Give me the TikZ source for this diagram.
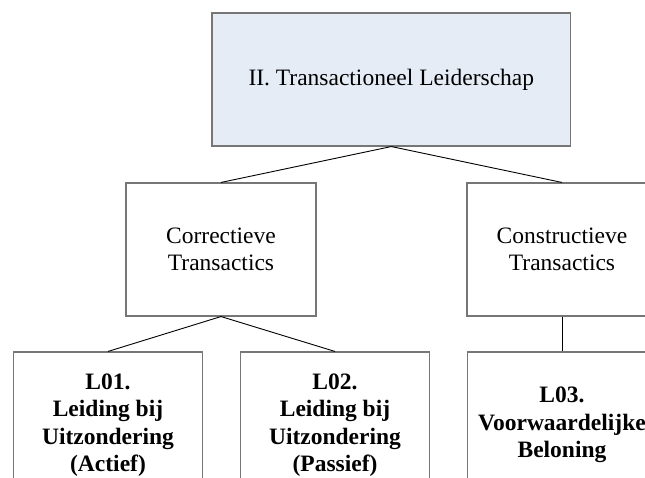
\documentclass[tikz,border=0pt]{standalone}
\usepackage{fontspec}
\setmainfont{Liberation Serif}
\definecolor{topfill}{RGB}{230,236,246}
\definecolor{boxline}{RGB}{118,118,118}
\tikzset{
  unit/.style={draw=boxline, line width=1.1pt, rectangle, align=center, inner sep=0pt,
    font=\fontsize{23.5}{27.5}\selectfont},
  headbox/.style={unit, fill=topfill, minimum width=358.7pt, minimum height=133pt},
  groupbox/.style={unit, fill=white, minimum width=190pt, minimum height=133pt},
  leafbox/.style={unit, fill=white, minimum width=189pt, minimum height=146pt,
    font=\fontsize{23.5}{27.5}\selectfont\bfseries},
  link/.style={draw=black, line width=0.9pt}
}
\begin{document}
\begin{tikzpicture}[x=1pt, y=-1pt]
  \useasboundingbox (0,0) rectangle (645,478);
  \clip (0,0) rectangle (645,478);
  \fill[white] (0,0) rectangle (645,478);

  % top level
  \node[headbox] (top) at (391.3,79.5) {II. Transactioneel Leiderschap};

  % second level
  \node[groupbox] (corr) at (221,249.5) {Correctieve\\Transactics};
  \node[groupbox] (cons) at (562,249.5) {Constructieve\\Transactics};

  % third level
  \node[leafbox] (l1) at (108,425) {L01.\\Leiding bij\\Uitzondering\\(Actief)};
  \node[leafbox] (l2) at (335,425) {L02.\\Leiding bij\\Uitzondering\\(Passief)};
  \node[leafbox] (l3) at (562,425) {L03.\\Voorwaardelijke\\Beloning};

  % connectors
  \draw[link] (top.south) -- (corr.north);
  \draw[link] (top.south) -- (cons.north);
  \draw[link] (corr.south) -- (l1.north);
  \draw[link] (corr.south) -- (l2.north);
  \draw[link] (cons.south) -- (l3.north);
\end{tikzpicture}
\end{document}
